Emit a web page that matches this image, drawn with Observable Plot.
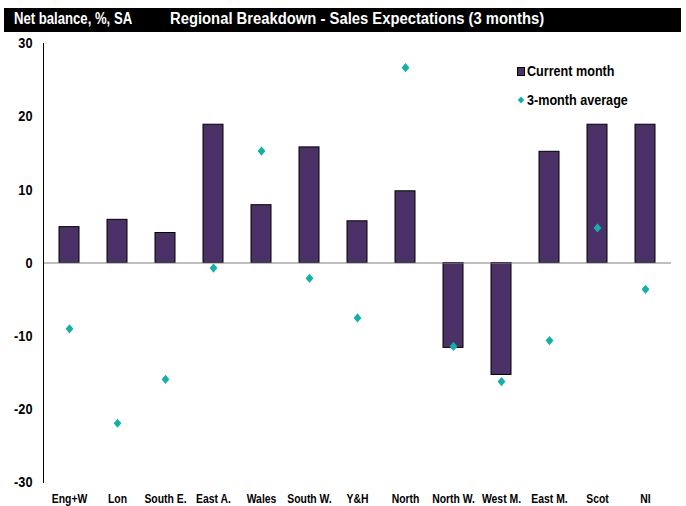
<!DOCTYPE html>
<html>
<head>
<meta charset="utf-8">
<script src="https://cdn.jsdelivr.net/npm/d3@7"></script>
<script src="https://cdn.jsdelivr.net/npm/@observablehq/plot@0.6"></script>
<style>
  body { margin: 0; background: #fff; font-family: "Liberation Sans", Arial, sans-serif; }
  #wrap { position: relative; width: 686px; height: 506px; }
  #header { position: absolute; left: 4px; top: 8px; width: 677px; height: 24px; background: #000; color: #fff; font-weight: bold; }
  #header span { position: absolute; top: 2px; font-size: 16px; white-space: nowrap; transform-origin: 0 50%; }
  #chart { position: absolute; left: 0; top: 32px; }
  .leg { position: absolute; font-weight: bold; font-size: 15px; color: #000; white-space: nowrap; transform: scaleX(0.84); transform-origin: 0 50%; }
  .sw { position: absolute; }
</style>
</head>
<body>
<div id="wrap">
  <div id="header"><span style="left:10px;transform:scaleX(0.82)">Net balance, %, SA</span><span style="left:166px;transform:scaleX(0.925)">Regional Breakdown - Sales Expectations (3 months)</span></div>
  <div id="chart"></div>
  <div class="sw" style="left:517px;top:67px;width:8px;height:9px;background:#4B3166;border:1px solid #000;box-sizing:border-box;"></div>
  <div class="leg" style="left:527px;top:62px;">Current month</div>
  <svg class="sw" style="left:516px;top:95px" width="10" height="10"><path d="M5,1.5 L8.2,5 L5,8.5 L1.8,5 Z" fill="#14B0A5"/></svg>
  <div class="leg" style="left:527px;top:91px;">3-month average</div>
</div>
<script>
const categories = ["Eng+W","Lon","South E.","East A.","Wales","South W.","Y&H","North","North W.","West M.","East M.","Scot","NI"];
const currentMonth = [4.9, 5.9, 4.1, 18.9, 7.9, 15.8, 5.7, 9.8, -11.6, -15.3, 15.2, 18.9, 18.9];
const threeMonthAvg = [-9.0, -21.9, -15.9, -0.7, 15.3, -2.1, -7.5, 26.7, -11.4, -16.2, -10.6, 4.8, -3.6];
const yTicks = [-30, -20, -10, 0, 10, 20, 30];

const rows = categories.map((c, i) => ({region: c, current: currentMonth[i], avg: threeMonthAvg[i]}));
const font = '"Liberation Sans", Arial, sans-serif';

const diamond = {
  draw(context, size) {
    const r = Math.sqrt(size / Math.PI);
    context.moveTo(0, -r);
    context.lineTo(0.85 * r, 0);
    context.lineTo(0, r);
    context.lineTo(-0.85 * r, 0);
    context.closePath();
  }
};

const chart = Plot.plot({
  width: 686,
  height: 474,
  marginTop: 11,
  marginBottom: 24,
  marginLeft: 43,
  marginRight: 15,
  style: {fontFamily: font, fontWeight: "bold", color: "#000", background: "#fff"},
  x: {domain: categories, paddingInner: 0.59, paddingOuter: 0.295, label: null, tickSize: 0, tickPadding: 11},
  y: {domain: [-30, 30], ticks: yTicks, label: null, tickSize: 0, tickPadding: 11, tickFormat: d => String(d)},
  marks: [
    Plot.barY(rows, {x: "region", y: "current", fill: "#4B3166", stroke: "#000", strokeWidth: 1}),
    Plot.ruleY([0], {stroke: "#808080", strokeWidth: 1.2}),
    Plot.frame({anchor: "left", stroke: "#000"}),
    Plot.dot(rows, {x: "region", y: "avg", symbol: diamond, r: 4.6, fill: "#14B0A5", stroke: "none"}),
    Plot.axisY({ticks: yTicks, tickSize: 0, tickPadding: 11, fontSize: 15, label: null, tickFormat: d => String(d)}),
    Plot.axisX({tickSize: 0, tickPadding: 11, fontSize: 13, label: null})
  ]
});
document.getElementById("chart").appendChild(chart);
// narrow the bold axis labels (the reference uses a condensed face)
function condense(selector, k) {
  chart.querySelectorAll(selector).forEach(t => {
    const len = t.getComputedTextLength();
    if (len > 0) {
      t.setAttribute("textLength", (len * k).toFixed(2));
      t.setAttribute("lengthAdjust", "spacingAndGlyphs");
    }
  });
}
condense('g[aria-label="y-axis tick label"] text', 0.85);
condense('g[aria-label="x-axis tick label"] text', 0.8);
</script>
</body>
</html>
